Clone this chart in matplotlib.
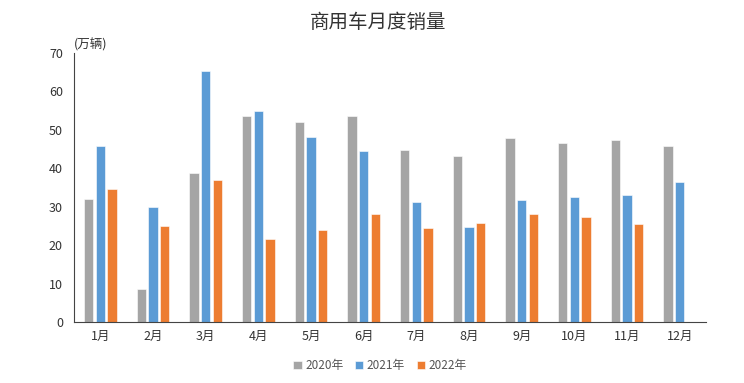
import matplotlib
matplotlib.use("Agg")
import matplotlib.pyplot as plt
import numpy as np

plt.rcParams['font.family'] = ['Noto Sans CJK SC', 'DejaVu Sans']

# 数据（万辆）
months = ["1月", "2月", "3月", "4月", "5月", "6月", "7月", "8月", "9月", "10月", "11月", "12月"]
sales_2020 = [32.0, 8.7, 38.9, 53.5, 52.0, 53.7, 44.8, 43.2, 47.8, 46.6, 47.4, 45.8]
sales_2021 = [45.8, 29.9, 65.3, 54.9, 48.2, 44.6, 31.3, 24.8, 31.8, 32.6, 33.1, 36.5]
sales_2022 = [34.5, 25.0, 37.0, 21.7, 23.9, 28.2, 24.6, 25.8, 28.0, 27.4, 25.5]
years = ["2020年", "2021年", "2022年"]
colors = ["#A5A5A5", "#5B9BD5", "#ED7D31"]

fig = plt.figure(figsize=(7.44, 3.83), dpi=100)
ax = fig.add_axes([0.0995, 0.159, 0.8495, 0.7026])

x = np.arange(len(months))
width = 0.18
step = 0.222
series = [sales_2020, sales_2021, sales_2022]
for i, (vals, lab, c) in enumerate(zip(series, years, colors)):
    xs = x[:len(vals)] + (i - 1) * step
    ax.bar(xs, vals, width=width, color=c, label=lab, edgecolor="white", linewidth=0.4)

ax.set_xlim(-0.5, 11.5)
ax.set_ylim(0, 70)
ax.set_yticks(range(0, 71, 10))
ax.set_xticks(x)
ax.set_xticklabels(months, fontsize=9, color="#333333")
ax.tick_params(axis="y", length=0, labelsize=9, labelcolor="#333333", pad=8)
ax.tick_params(axis="x", length=0, pad=6)

for s in ["top", "right"]:
    ax.spines[s].set_visible(False)
ax.spines["left"].set_color("#444444")
ax.spines["bottom"].set_color("#444444")

ax.text(0.0, 1.005, "(万辆)", transform=ax.transAxes, fontsize=9, color="#333333",
        ha="left", va="bottom")

fig.text(0.508, 0.94, "商用车月度销量", ha="center", va="center", fontsize=14, color="#333333")

fig.legend(loc="center", bbox_to_anchor=(0.511, 0.045), ncol=3, frameon=False,
           fontsize=8.5, handlelength=0.7, handleheight=0.7, handletextpad=0.3,
           columnspacing=1.0, labelcolor="#555555")

fig.savefig("out.png", dpi=100)
